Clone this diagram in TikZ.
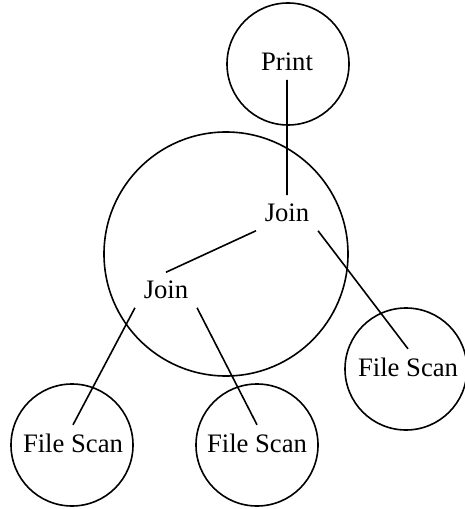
\documentclass[tikz,border=0pt]{standalone}
\usepackage{fontspec}
\setmainfont{Liberation Serif}
\usetikzlibrary{positioning}

\begin{document}
\begin{tikzpicture}[x=0.375pt,y=-0.375pt,line width=0.6pt,
    ring/.style={draw,circle,inner sep=0pt,minimum size=45.75pt},
    bigring/.style={draw,circle,inner sep=0pt,minimum size=91.5pt},
    op/.style={inner sep=3pt}]
   \useasboundingbox (0,0) rectangle (464,509);
   % the circles
   \node[ring] (printring) at (288,64) {};
   \node[bigring] (joinring) at (226,254) {};
   \node[ring] (scanring3) at (406,369) {};
   \node[ring] (scanring1) at (72,445) {};
   \node[ring] (scanring2) at (257,445) {};
   % the operators
   \node[op] (print) at (287,62) {Print};
   \node[op] (join1) at (287,213) {Join};
   \node[op] (join2) at (166,290) {Join};
   \node[op] (scan3) at (408,367) {File Scan};
   \node[op] (scan1) at (73,443) {File Scan};
   \node[op] (scan2) at (257,443) {File Scan};
    \path[draw] 
    (print.south) -- (join1.north)
    (join1.south west) -- (join2.north)
    (join1.south east) -- (scan3.north)
    (join2.south west) -- (scan1.north)
    (join2.south east) -- (scan2.north);
\end{tikzpicture}
\end{document}
